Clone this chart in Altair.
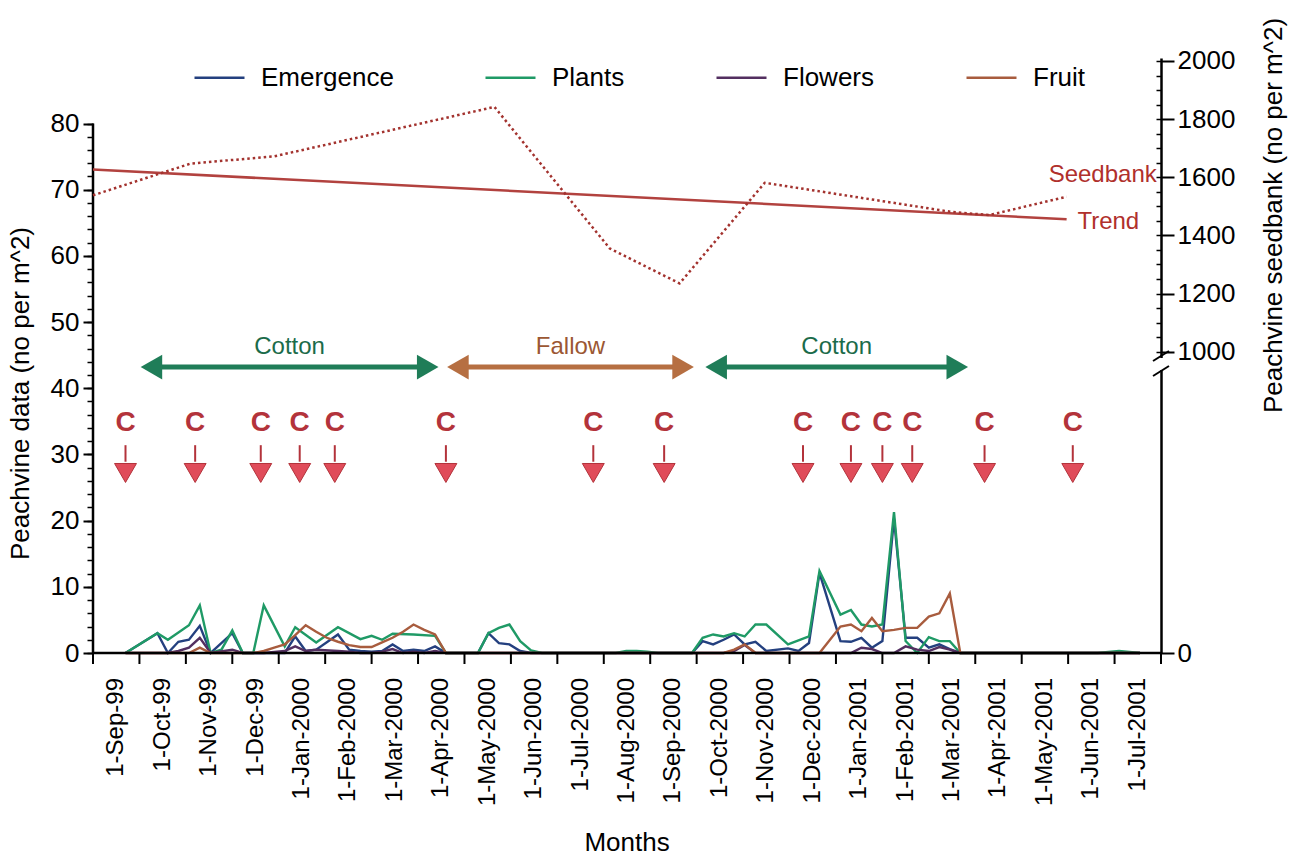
import altair as alt
import pandas as pd

FONT = "Liberation Sans"

# ---------------------------------------------------------------- data
MONTH_LABELS = [
    "1-Sep-99", "1-Oct-99", "1-Nov-99", "1-Dec-99", "1-Jan-2000", "1-Feb-2000",
    "1-Mar-2000", "1-Apr-2000", "1-May-2000", "1-Jun-2000", "1-Jul-2000",
    "1-Aug-2000", "1-Sep-2000", "1-Oct-2000", "1-Nov-2000", "1-Dec-2000",
    "1-Jan-2001", "1-Feb-2001", "1-Mar-2001", "1-Apr-2001", "1-May-2001",
    "1-Jun-2001", "1-Jul-2001",
]

SERIES = ["Emergence", "Plants", "Flowers", "Fruit"]

sample_dates = [
    # 1999/2000 cotton
    "1999-09-22", "1999-10-13", "1999-10-20", "1999-10-27", "1999-11-03", "1999-11-10",
    "1999-11-17", "1999-11-24", "1999-12-01", "1999-12-08", "1999-12-15", "1999-12-22",
    "1999-12-29", "2000-01-05", "2000-01-12", "2000-01-19", "2000-01-26", "2000-02-02",
    "2000-02-09", "2000-02-16", "2000-02-23", "2000-03-01", "2000-03-08", "2000-03-15",
    "2000-03-22", "2000-03-29", "2000-04-05", "2000-04-12", "2000-04-19",
    # fallow
    "2000-05-10", "2000-05-17", "2000-05-24", "2000-05-31", "2000-06-07", "2000-06-14",
    "2000-06-21",
    "2000-08-09", "2000-08-16", "2000-08-23", "2000-08-30", "2000-09-06",
    # 2000/2001 cotton
    "2000-09-28", "2000-10-05", "2000-10-12", "2000-10-19", "2000-10-26", "2000-11-02",
    "2000-11-09", "2000-11-16", "2000-11-30", "2000-12-07", "2000-12-14", "2000-12-21",
    "2001-01-04", "2001-01-11", "2001-01-18", "2001-01-25", "2001-02-01", "2001-02-08",
    "2001-02-15", "2001-02-22", "2001-03-01", "2001-03-08", "2001-03-15", "2001-03-22",
    # after harvest
    "2001-06-20", "2001-07-04", "2001-07-18",
]

emergence = [
    0, 3.0, 0, 1.7, 2.0, 4.1, 0, None, 3.0, 0, 0, 0,
    None, 0, 2.5, 0.3, 0.5, None, 2.8, 0.5, 0.3, 0.2, 0.3, 1.3,
    0.3, 0.5, 0.3, 1.0, 0,
    0, 3.0, 1.5, 1.3, 0.3, 0, 0,
    0, 0, 0, 0, 0,
    0, 1.8, 1.3, 2.0, 2.8, 1.3, 1.7, 0.3, 0.7, 0.3, 1.5, 12.1,
    1.8, 1.7, 2.3, 0.8, 1.8, 20.3, 2.3, 2.3, 0.8, 1.3, 0.6, 0,
    0, 0, 0,
]

plants = [
    0, 3.0, 2.0, None, 4.2, 7.2, 0, 0.5, 3.4, 0, 0, 7.2,
    None, 1.0, 3.9, None, 1.6, None, 3.9, None, 2.1, 2.6, 2.0, 2.9,
    None, 2.8, None, 2.6, 0,
    0, 3.0, 3.8, 4.3, 1.8, 0.4, 0,
    0, 0.3, 0.3, 0.2, 0,
    0, 2.3, 2.8, 2.5, 3.0, 2.5, 4.3, 4.3, 1.3, 1.9, 2.5, 12.4,
    5.8, 6.5, 4.3, 4.0, 4.3, 21.3, 1.8, 0, 2.4, 1.8, 1.8, 0,
    0, 0.3, 0,
]

flowers = [
    0, 0, 0, 0.3, 0.8, 2.3, 0, None, 0.5, 0, 0, 0,
    None, 0.3, 1.0, 0.3, 0.5, None, 0.3, 0.2, 0, 0, 0.2, 0.6,
    0, 0.2, 0, 0.3, 0,
    0, 0, 0, 0, 0, 0, 0,
    0, 0, 0, 0, 0,
    0, 0, 0, 0, 0.3, 1.2, 0, 0, 0, 0, 0, 0,
    0, 0, 0.8, 0.6, 0, 0, 1.0, 0.5, 0.3, 0.9, 0.5, 0,
    0, 0, 0,
]

fruit = [
    0, 0, 0, 0, 0, 0.8, 0, 0, 0, 0, 0, 0.3,
    0.8, 1.3, 2.7, 4.2, 3.2, 2.3, 1.7, 1.2, 0.9, 0.9, 1.6, 2.3,
    3.2, 4.3, 3.5, 2.8, 0,
    0, 0, 0, 0, 0, 0, 0,
    0, 0, 0, 0, 0,
    0, 0, 0, 0, 0.5, 1.3, 0, 0, 0, 0, 0, 0,
    4.0, 4.3, 3.3, 5.3, 3.3, 3.5, 3.8, 3.8, 5.5, 6.0, 9.0, 0,
    0, 0, 0,
]

seed_dates = [
    "1999-09-01", "1999-11-04", "1999-12-29", "2000-05-21", "2000-08-05",
    "2000-09-20", "2000-11-15", "2001-03-16", "2001-04-10", "2001-05-31",
]
seed_values = [1538, 1647, 1672, 1842, 1355, 1235, 1581, 1481, 1470, 1533]

cultivation_dates = [
    "1999-09-22", "1999-11-07", "1999-12-20", "2000-01-15", "2000-02-07",
    "2000-04-19", "2000-07-25", "2000-09-10", "2000-12-10", "2001-01-11",
    "2001-02-01", "2001-02-19", "2001-04-07", "2001-06-04",
]

crop_labels = ["Cotton", "Fallow", "Cotton"]
crop_start = ["1999-10-01", "2000-04-19", "2000-10-06"]
crop_end = ["2000-04-15", "2000-09-30", "2001-03-28"]

seed_label_text = ["Seedbank", "Trend"]
seed_label_dates = ["2001-05-19", "2001-06-07"]
seed_label_values = [1608, 1446]

# ---------------------------------------------------------------- styling
SERIES_COLORS = ["#24407f", "#1f9a66", "#532f60", "#a85c3e"]
SEED_RED = "#a3322e"
TREND_RED = "#b2423f"
LABEL_RED = "#b0302c"
C_RED = "#b3333b"
C_PINK = "#e04c5a"
CROP_LINE = {"Cotton": "#1f7d58", "Fallow": "#b66f42"}
CROP_TEXT = {"Cotton": "#1b6b4a", "Fallow": "#9b5733"}

W, H = 1068, 595
LEFT_TOP = 89.9                # left scale value at the top of the plot
SEED_DOMAIN = [-36.5, 2010.3]  # broken right axis: 1000-2000 band, 0 at the floor
X_TICK = 11                    # month tick length below the floor (px)
X_LABEL_GAP = 14               # gap between tick ends and month names (px)

# y levels (left scale units) for the annotations
C_TEXT_Y, C_SHAFT_TOP, C_SHAFT_BOT, C_HEAD_Y = 34.75, 31.4, 28.9, 27.2
CROP_Y, CROP_TEXT_Y = 43.2, 46.3


def month_index(day):
    """Months since 1 Sep 1999, each calendar month taking one unit."""
    t = pd.Timestamp(day)
    return (t.year - 1999) * 12 + (t.month - 9) + (t.day - 1) / t.days_in_month


# ---------------------------------------------------------------- tables
rows = []
for name, vals in zip(SERIES, [emergence, plants, flowers, fruit]):
    for d, v in zip(sample_dates, vals):
        if v is not None:
            rows.append({"m": month_index(d), "series": name, "value": v})
obs = pd.DataFrame(rows)

seed = pd.DataFrame({"m": [month_index(d) for d in seed_dates], "seed": seed_values})
seed_lbl = pd.DataFrame({
    "m": [month_index(d) for d in seed_label_dates],
    "seed": seed_label_values,
    "text": seed_label_text,
})

cult = pd.DataFrame({"m": [month_index(d) for d in cultivation_dates]})
cult["ct"] = C_TEXT_Y
cult["s1"] = C_SHAFT_TOP
cult["s2"] = C_SHAFT_BOT
cult["hy"] = C_HEAD_Y

crops = pd.DataFrame({
    "label": crop_labels,
    "start": [month_index(d) for d in crop_start],
    "end": [month_index(d) for d in crop_end],
})
crops["mid"] = (crops["start"] + crops["end"]) / 2
crops["line"] = CROP_Y
crops["ty"] = CROP_TEXT_Y
crops["hex"] = crops["label"].map(CROP_LINE)
crops["thex"] = crops["label"].map(CROP_TEXT)

n_months = len(MONTH_LABELS)
month_bounds = pd.DataFrame({"m": list(range(n_months + 1))})
month_names = pd.DataFrame({"m": [i + 0.5 for i in range(n_months)], "label": MONTH_LABELS})
floor_span = pd.DataFrame({"a": [0], "b": [n_months], "zero": [0]})
x_title = pd.DataFrame({"m": [n_months / 2], "text": ["Months"]})
left_axis_span = pd.DataFrame({"m": [0], "lo": [0], "hi": [80]})
one_row = pd.DataFrame({"k": [0]})


# ---------------------------------------------------------------- scales & axes
def XS():
    return alt.Scale(domain=[0, n_months], nice=False, zero=False)


def YL():
    return alt.Scale(domain=[0, LEFT_TOP], nice=False, zero=False)


def YR():
    return alt.Scale(domain=SEED_DOMAIN, nice=False, zero=False)


def X(field):
    return alt.X(field, scale=XS(), axis=None)


left_major = alt.Axis(
    orient="left", values=list(range(0, 81, 10)), domain=False,
    tickSize=10, tickWidth=2, tickColor="black",
    labelFont=FONT, labelFontSize=26, labelColor="black", labelPadding=4, grid=False,
    title="Peachvine data (no per m^2)", titleFont=FONT, titleFontSize=26,
    titleFontWeight="normal", titleColor="black", titleAngle=270,
    titleX=-73, titleY=335, titleAlign="center", titleBaseline="middle",
)
left_minor = alt.Axis(
    orient="left", values=list(range(0, 81, 2)), domain=False, labels=False,
    tickSize=6, tickWidth=1.5, tickColor="black", grid=False, title=None,
)
right_major = alt.Axis(
    orient="right", values=[SEED_DOMAIN[0]] + list(range(1000, 2001, 200)),
    format="d", labelExpr="datum.value < 0 ? '0' : datum.label",
    domainColor="black", domainWidth=2.5, tickSize=13, tickWidth=2, tickColor="black",
    labelFont=FONT, labelFontSize=26, labelColor="black", labelPadding=3, grid=False,
    title="Peachvine seedbank (no per m^2)", titleFont=FONT, titleFontSize=26,
    titleFontWeight="normal", titleColor="black", titleAngle=270,
    titleX=112, titleY=157, titleAlign="center", titleBaseline="middle",
)
right_minor = alt.Axis(
    orient="right", values=list(range(1000, 2001, 50)), domain=False, labels=False,
    tickSize=5, tickWidth=1.5, tickColor="black", offset=-5, grid=False, title=None,
)

legend = alt.Legend(
    orient="none", legendX=100, legendY=-7, direction="horizontal", title=None,
    symbolType="stroke", symbolSize=2500, symbolStrokeWidth=2.5,
    labelFont=FONT, labelFontSize=26, labelColor="black", labelOffset=15,
    columnPadding=86, padding=0, labelLimit=300,
)

# ---------------------------------------------------------------- month axis (floor)
floor_line = alt.Chart(floor_span).mark_rule(color="black", strokeWidth=2.5).encode(
    x=X("a:Q"), x2="b:Q", y=alt.Y("zero:Q", scale=YL(), axis=None),
)
month_ticks = alt.Chart(month_bounds).mark_rule(color="black", strokeWidth=2).encode(
    x=X("m:Q"), y=alt.value(H), y2=alt.value(H + X_TICK),
)
month_text = alt.Chart(month_names).mark_text(
    angle=270, align="right", baseline="middle", font=FONT, fontSize=24, color="black",
).encode(x=X("m:Q"), y=alt.value(H + X_TICK + X_LABEL_GAP), text="label:N")
month_title = alt.Chart(x_title).mark_text(
    align="center", baseline="middle", font=FONT, fontSize=26, color="black",
).encode(x=X("m:Q"), y=alt.value(H + 190), text="text:N")

# ---------------------------------------------------------------- layers on the left scale
lines = alt.Chart(obs).mark_line(strokeWidth=2.4).encode(
    x=X("m:Q"),
    y=alt.Y("value:Q", scale=YL(), axis=left_major),
    color=alt.Color("series:N", scale=alt.Scale(domain=SERIES, range=SERIES_COLORS),
                    legend=legend),
)

left_line = alt.Chart(left_axis_span).mark_rule(color="black", strokeWidth=2.5).encode(
    x=X("m:Q"), y=alt.Y("lo:Q", scale=YL(), axis=left_minor), y2="hi:Q",
)

crop_shaft = alt.Chart(crops).mark_rule(strokeWidth=5, xOffset=10, x2Offset=-10).encode(
    x=X("start:Q"), x2="end:Q", y=alt.Y("line:Q", scale=YL(), axis=None),
    color=alt.Color("hex:N", scale=None),
)
crop_head_l = alt.Chart(crops).mark_point(
    shape="triangle-left", filled=True, size=620, opacity=1, xOffset=12,
).encode(x=X("start:Q"), y=alt.Y("line:Q", scale=YL(), axis=None),
         color=alt.Color("hex:N", scale=None))
crop_head_r = alt.Chart(crops).mark_point(
    shape="triangle-right", filled=True, size=620, opacity=1, xOffset=-12,
).encode(x=X("end:Q"), y=alt.Y("line:Q", scale=YL(), axis=None),
         color=alt.Color("hex:N", scale=None))
crop_text = alt.Chart(crops).mark_text(font=FONT, fontSize=24, baseline="middle").encode(
    x=X("mid:Q"), y=alt.Y("ty:Q", scale=YL(), axis=None), text="label:N",
    color=alt.Color("thex:N", scale=None),
)

c_text = alt.Chart(cult).mark_text(
    text="C", font=FONT, fontSize=28, fontWeight="bold", color=C_RED, baseline="middle",
).encode(x=X("m:Q"), y=alt.Y("ct:Q", scale=YL(), axis=None))
c_shaft = alt.Chart(cult).mark_rule(color=C_RED, strokeWidth=2).encode(
    x=X("m:Q"), y=alt.Y("s1:Q", scale=YL(), axis=None), y2="s2:Q",
)
c_head = alt.Chart(cult).mark_point(
    shape="triangle-down", filled=True, size=480, fill=C_PINK, stroke=C_RED,
    strokeWidth=1, opacity=1,
).encode(x=X("m:Q"), y=alt.Y("hy:Q", scale=YL(), axis=None))

# ---------------------------------------------------------------- seedbank layers
seed_dots = alt.Chart(seed).mark_line(
    strokeDash=[2.5, 3], strokeWidth=2.5, color=SEED_RED,
).encode(x=X("m:Q"), y=alt.Y("seed:Q", scale=YR(), axis=right_major))

seed_trend = alt.Chart(seed).transform_regression("m", "seed").mark_line(
    strokeWidth=2.5, color=TREND_RED,
).encode(x=X("m:Q"), y=alt.Y("seed:Q", scale=YR(), axis=None))

seed_ticks = alt.Chart(seed).mark_point(opacity=0).encode(
    x=X("m:Q"), y=alt.Y("seed:Q", scale=YR(), axis=right_minor),
)

seed_text = alt.Chart(seed_lbl).mark_text(
    align="left", baseline="middle", font=FONT, fontSize=24, color=LABEL_RED,
).encode(x=X("m:Q"), y=alt.Y("seed:Q", scale=YR(), axis=None), text="text:N")

# axis break drawn on the right axis just under 1000
break_gap = alt.Chart(one_row).mark_rect(color="white").encode(
    x=alt.value(W - 5), x2=alt.value(W + 5), y=alt.value(300), y2=alt.value(312),
)
break_a = alt.Chart(one_row).mark_rule(color="black", strokeWidth=2).encode(
    x=alt.value(W - 8), y=alt.value(303), x2=alt.value(W + 8), y2=alt.value(293),
)
break_b = alt.Chart(one_row).mark_rule(color="black", strokeWidth=2).encode(
    x=alt.value(W - 8), y=alt.value(318), x2=alt.value(W + 8), y2=alt.value(308),
)

chart = alt.layer(
    lines, left_line, crop_shaft, crop_head_l, crop_head_r, crop_text,
    c_shaft, c_head, c_text,
    seed_trend, seed_dots, seed_ticks, seed_text, break_gap, break_a, break_b,
    floor_line, month_ticks, month_text, month_title,
).resolve_scale(y="independent").resolve_axis(y="independent").properties(
    width=W, height=H,
    autosize=alt.AutoSizeParams(type="none"),
    padding={"left": 93, "top": 58, "right": 132, "bottom": 205},
    background="white",
).configure(font=FONT).configure_view(stroke=None)

chart.save("out.html", embed_options={"renderer": "svg", "actions": False})
